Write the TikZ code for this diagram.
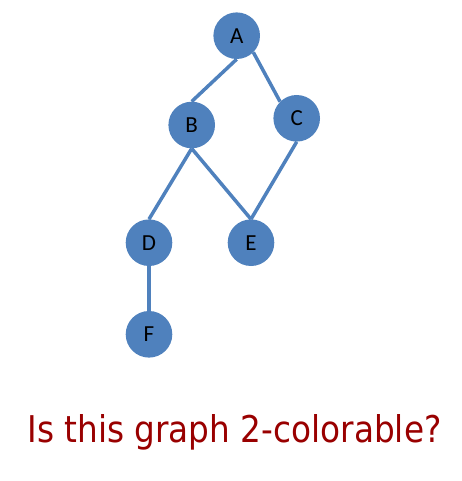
\documentclass[tikz,border=0pt]{standalone}
\usepackage{fontspec}
\setmainfont{Carlito}
\newfontfamily\qfont{DejaVu Sans}
\definecolor{nodeblue}{RGB}{79,129,189}
\definecolor{qred}{RGB}{153,0,0}
\begin{document}
\begin{tikzpicture}[x=1pt,y=-1pt,
  vert/.style={circle,fill=nodeblue,minimum size=46.6pt,inner sep=0pt,font=\fontsize{23}{23}\selectfont,text=black},
  edge/.style={draw=nodeblue,line width=3.5pt}]
\useasboundingbox (0,0) rectangle (461,481);
\node[vert] (A) at (236.7,35.7) {A};
\node[vert] (B) at (191.7,125) {B};
\node[vert] (C) at (296.7,118.3) {C};
\node[vert] (D) at (149,242.7) {D};
\node[vert] (E) at (251,242.7) {E};
\node[vert] (F) at (149,334.3) {F};
\draw[edge] (A.south) -- (B.north);
\draw[edge] (A.-45) -- (C.135);
\draw[edge] (B.south) -- (D.north);
\draw[edge] (B.south) -- (E.north);
\draw[edge] (C.south) -- (E.north);
\draw[edge] (D.south) -- (F.north);
\node[anchor=base,inner sep=0pt,text=qred] (Q) at (234.5,442.5) {\resizebox{414pt}{28pt}{\qfont Is this graph 2-colorable?}};
\end{tikzpicture}
\end{document}
